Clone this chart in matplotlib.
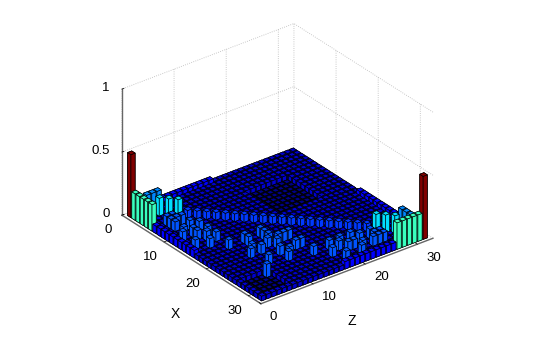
import matplotlib
matplotlib.use("Agg")
import matplotlib.pyplot as plt
import numpy as np

plt.rcParams["font.family"] = ["Liberation Sans", "DejaVu Sans"]
plt.rcParams["grid.color"] = "0.72"
plt.rcParams["grid.linestyle"] = ":"
plt.rcParams["grid.linewidth"] = 0.6

N = 32
BASE_HEIGHT = 0.036
COLOR_MAX = 0.5

x_ticks = [0, 10, 20, 30]
z_ticks = [0, 10, 20, 30]
h_ticks = [0, 0.5, 1]
h_tick_labels = ["0", "0.5", "1"]

diag_heights = [
    0.5, 0.07, 0.07, 0.17, 0.17, 0.17, 0.09, 0.09, 0.09, 0.09, 0.09,
    0.09, 0.09, 0.09, 0.09, 0.09, 0.09, 0.09, 0.09, 0.09, 0.09, 0.09,
    0.09, 0.09, 0.09, 0.09, 0.17, 0.17, 0.17, 0.07, 0.07, 0.5,
]

# low patches, (x from, x to, z from, z to)
low_blocks = [(7, 14, 19, 26), (27, 31, 2, 6)]
low_height = 0.005

teal_bars = [
    (2, 1), (3, 1), (4, 1), (5, 1), (6, 1),
    (32, 31), (32, 30), (32, 29), (32, 28), (32, 27),
]
teal_height = 0.21

light_bars = [(1, 4), (1, 5), (1, 6), (29, 32), (28, 32), (27, 32)]
light_height = 0.13

edge_bars = (
    [(x, 1) for x in range(7, 17)]
    + [(32, z) for z in range(17, 27)]
    + [(1, z) for z in range(7, 17)]
    + [(x, 32) for x in range(17, 27)]
)
edge_height = 0.06

mid_bars = [
    (7, 3), (7, 4), (8, 4), (8, 3), (9, 3), (8, 5), (12, 2), (11, 3),
    (10, 5), (11, 6), (12, 4), (13, 4), (13, 6), (14, 5), (15, 6), (16, 4),
    (15, 2), (18, 6), (18, 9), (19, 9), (18, 12), (19, 12), (20, 12),
    (21, 8), (22, 9), (21, 11), (22, 7), (25, 8), (27, 6),
    (30, 26), (29, 26), (29, 25), (30, 25), (30, 24), (28, 25), (31, 21),
    (30, 22), (28, 23), (27, 22), (29, 21), (29, 20), (27, 20), (28, 19),
    (27, 18), (29, 17), (31, 18), (27, 15), (24, 15), (24, 14), (21, 15),
    (21, 14), (21, 13), (25, 12), (24, 11), (22, 12), (26, 11),
]
mid_height = 0.105


def build_heights():
    h = np.full((N, N), BASE_HEIGHT)
    for x0, x1, z0, z1 in low_blocks:
        h[x0 - 1:x1, z0 - 1:z1] = low_height
    for x, z in edge_bars:
        h[x - 1, z - 1] = edge_height
    for x, z in mid_bars:
        h[x - 1, z - 1] = mid_height
    for x, z in light_bars:
        h[x - 1, z - 1] = light_height
    for x, z in teal_bars:
        h[x - 1, z - 1] = teal_height
    for k, value in enumerate(diag_heights):
        h[k, k] = value
    return h


def main():
    heights = build_heights()
    cmap = plt.get_cmap("jet")

    fig = plt.figure(figsize=(5.36, 3.42), dpi=100)
    ax = fig.add_axes([0.009, 0.008, 1.0, 1.0], projection="3d", proj_type="ortho",
                      computed_zorder=False)
    ax.view_init(elev=29.5, azim=-37.7)
    ax.set_box_aspect((229, 219, 146), zoom=0.983)

    # draw far bars first, the polygon sort gets tall bars wrong
    cells = [(x, z) for x in range(1, N + 1) for z in range(1, N + 1)]
    cells.sort(key=lambda c: 0.79 * c[0] - 0.61 * c[1])
    for order, (x, z) in enumerate(cells):
        h = heights[x - 1, z - 1]
        ax.bar3d(x - 0.4, z - 0.4, 0, 0.8, 0.8, h, color=cmap(h / COLOR_MAX),
                 edgecolor="black", linewidth=0.45, shade=False, zorder=10 + order)

    ax.set_xlim(0, 33, view_margin=0)
    ax.set_ylim(0, 33, view_margin=0)
    ax.set_zlim(0, 1, view_margin=0)
    ax.set_xticks(x_ticks)
    ax.set_yticks(z_ticks)
    ax.set_zticks(h_ticks)
    ax.set_zticklabels(h_tick_labels)
    ax.tick_params(labelsize=9.5, colors="black", pad=0)
    ax.tick_params(axis="x", pad=2)
    ax.tick_params(axis="z", pad=-3)

    for axis in (ax.xaxis, ax.yaxis, ax.zaxis):
        axis.set_pane_color((1, 1, 1, 0))
        axis.pane.set_edgecolor((1, 1, 1, 0))
        axis.line.set_color("0.4")
        axis.line.set_linewidth(1.0)
        axis._axinfo["tick"]["inward_factor"] = 0.0
        axis._axinfo["tick"]["outward_factor"] = 0.15
        axis._axinfo["tick"]["linewidth"] = {True: 0.5, False: 0.5}
        for label in axis.get_ticklabels():
            label.set_va("center")
    for label in ax.yaxis.get_ticklabels():
        label.set_ha("left")
    for label in ax.zaxis.get_ticklabels():
        label.set_ha("right")
    ax.zaxis.set_ticks_position("lower")

    fig.text(175 / 536, 1 - 314 / 342, "X", fontsize=10, ha="center", va="center")
    fig.text(352 / 536, 1 - 321 / 342, "Z", fontsize=10, ha="center", va="center")

    fig.savefig("out.png", dpi=100)
    plt.close(fig)


if __name__ == "__main__":
    main()
